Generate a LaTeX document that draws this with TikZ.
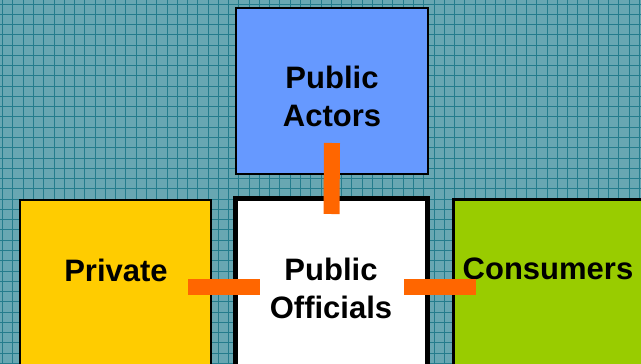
\documentclass[tikz,border=0pt]{standalone}
\usepackage{fontspec}
\setmainfont{Liberation Sans}
\usetikzlibrary{positioning,calc}
\definecolor{bgteal}{RGB}{104,167,178}
\definecolor{gridteal}{RGB}{36,124,140}
\definecolor{actblue}{RGB}{102,153,255}
\definecolor{privyellow}{RGB}{255,204,0}
\definecolor{consgreen}{RGB}{153,204,0}
\definecolor{linkorange}{RGB}{255,102,0}
\tikzstyle{box} = [rectangle, draw=black, inner sep=0pt, outer sep=0pt, anchor=north west]
\tikzstyle{label} = [font=\bfseries\fontsize{31}{38}\selectfont, align=center, inner sep=0pt]
\tikzstyle{link} = [line width=16pt, linkorange]
\tikzstyle{gridline} = [gridteal, line width=1pt]

\begin{document}
\begin{tikzpicture}[x=1pt, y=-1pt]
\useasboundingbox (0,0) rectangle (641,364);
\clip (0,0) rectangle (641,364);
% Background grid
\fill[bgteal] (0,0) rectangle (641,364);
\foreach \i in {0,...,62} \draw[gridline] (2.7+10.27*\i,0) -- (2.7+10.27*\i,364);
\foreach \j in {0,...,35} \draw[gridline] (0,4+10.27*\j) -- (641,4+10.27*\j);

% Boxes
\node[box, fill=actblue, line width=2.5pt, minimum width=192pt, minimum height=166pt] (actors) at (236,8) {};
\node[box, fill=white, line width=5pt, minimum width=192pt, minimum height=220pt] (officials) at (235.5,198.5) {};
\node[box, fill=privyellow, line width=2pt, minimum width=191pt, minimum height=220pt] (private) at (20,200) {};
\node[box, fill=consgreen, line width=2.5pt, minimum width=220pt, minimum height=220pt] (consumers) at (453.5,199.5) {};

% Labels
\node[label] (actorstext) at (332,96) {Public\\Actors};
\node[label] (officialstext) at (331,288) {Public\\Officials};
\node[label] (privatetext) at (116,270) {Private};
\node[label] (consumerstext) at (548,269) {Consumers};

% Links
\coordinate (midrow) at (0,287);
\draw[link] ([yshift=31pt]actors.south) -- ([yshift=-15.5pt]officials.north);
\draw[link] ($(private.east |- midrow)+(-23,0)$) -- ($(officials.west |- midrow)+(24.5,0)$);
\draw[link] ($(officials.east |- midrow)+(-23.5,0)$) -- ($(consumers.west |- midrow)+(22.5,0)$);
\end{tikzpicture}
\end{document}
